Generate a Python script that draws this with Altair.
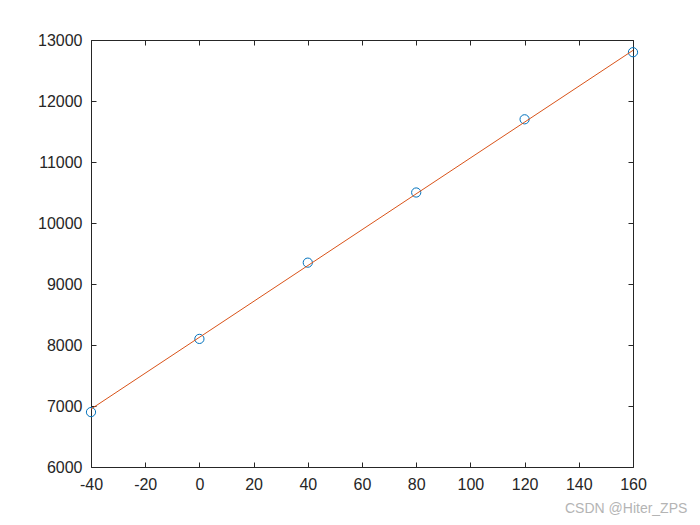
import altair as alt
import pandas as pd

# data
xs = [-40, 0, 40, 80, 120, 160]
ys = [6900, 8100, 9350, 10500, 11700, 12800]
fit_x = [-40, 160]
fit_y = [6950, 12830]
x_ticks = [-40, -20, 0, 20, 40, 60, 80, 100, 120, 140, 160]
y_ticks = [6000, 7000, 8000, 9000, 10000, 11000, 12000, 13000]

pts = pd.DataFrame({"x": xs, "y": ys})
fit = pd.DataFrame({"x": fit_x, "y": fit_y})

AX = "#262626"
xscale = alt.Scale(domain=[-40, 160], nice=False, zero=False)
yscale = alt.Scale(domain=[6000, 13000], nice=False, zero=False)

tick_common = dict(domain=False, grid=False, tickSize=5, offset=-5, tickColor=AX,
                   tickWidth=1, title=None, labelColor=AX, labelFont="Liberation Sans",
                   labelFontSize=16, labelFlush=False, labelOverlap=False)
dom_common = dict(domain=True, domainColor=AX, domainWidth=1, ticks=False,
                  labels=False, grid=False, title=None)

x_bottom = alt.Axis(orient="bottom", values=x_ticks, labelPadding=9,
                    labelExpr="'' + datum.value", **tick_common)
y_left = alt.Axis(orient="left", values=y_ticks, labelPadding=9,
                  labelExpr="'' + datum.value", **tick_common)
x_top = alt.Axis(orient="top", values=x_ticks, labels=False, **tick_common)
y_right = alt.Axis(orient="right", values=y_ticks, labels=False, **tick_common)

points = alt.Chart(pts).mark_point(
    shape="circle", filled=False, color="#0072BD", size=85, strokeWidth=1, opacity=1
).encode(
    x=alt.X("x:Q", scale=xscale, axis=x_bottom),
    y=alt.Y("y:Q", scale=yscale, axis=y_left),
)

line = alt.Chart(fit).mark_line(color="#D95319", strokeWidth=1).encode(
    x=alt.X("x:Q", scale=xscale, axis=x_top),
    y=alt.Y("y:Q", scale=yscale, axis=y_right),
)

frame_bl = alt.Chart(pts).mark_point(opacity=0).encode(
    x=alt.X("x:Q", scale=xscale, axis=alt.Axis(orient="bottom", **dom_common)),
    y=alt.Y("y:Q", scale=yscale, axis=alt.Axis(orient="left", **dom_common)),
)
frame_tr = alt.Chart(pts).mark_point(opacity=0).encode(
    x=alt.X("x:Q", scale=xscale, axis=alt.Axis(orient="top", **dom_common)),
    y=alt.Y("y:Q", scale=yscale, axis=alt.Axis(orient="right", **dom_common)),
)

chart = alt.layer(frame_bl, frame_tr, points, line).resolve_axis(
    x="independent", y="independent"
).properties(
    width=542,
    height=427,
    autosize=alt.AutoSizeParams(type="none"),
    padding={"left": 83, "top": 32, "right": 59, "bottom": 50},
    title=alt.TitleParams(
        "CSDN @Hiter_ZPS", orient="bottom", anchor="end", dx=41, offset=10,
        fontSize=14, fontWeight="normal", color="#b4b4b4", font="Liberation Sans",
    ),
).configure_view(stroke=None).configure(background="white")

chart.save("out.html", embed_options={"renderer": "svg", "actions": False})
